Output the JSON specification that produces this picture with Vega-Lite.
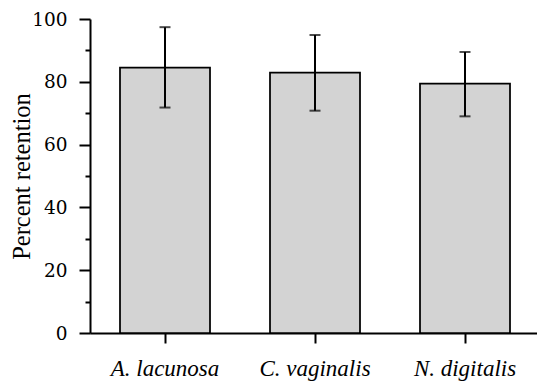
{
  "$schema": "https://vega.github.io/schema/vega-lite/v6.json",
  "autosize": {"type": "none"},
  "padding": {"left": 90, "top": 19, "right": 0, "bottom": 49},
  "width": 450,
  "height": 314,
  "background": "white",
  "config": {
    "view": {"stroke": null},
    "font": "Liberation Serif",
    "axis": {"labelFont": "Liberation Serif", "titleFont": "Liberation Serif", "domainColor": "black", "tickColor": "black", "labelColor": "black", "titleColor": "black", "domainWidth": 2, "tickWidth": 2, "grid": false}
  },
  "data": {
    "values": [
      {"species": "A. lacunosa", "mean": 84.5, "lo": 71.8, "hi": 97.4},
      {"species": "C. vaginalis", "mean": 82.9, "lo": 70.8, "hi": 94.9},
      {"species": "N. digitalis", "mean": 79.4, "lo": 69.0, "hi": 89.5}
    ]
  },
  "encoding": {
    "x": {
      "field": "species", "type": "nominal", "sort": null,
      "scale": {"paddingInner": 0.4, "paddingOuter": 0.2},
      "axis": {"title": null, "labelAngle": 0, "labelFontSize": 23, "labelFontStyle": "italic", "labelPadding": 14, "tickSize": 10}
    }
  },
  "layer": [
    {
      "mark": {"type": "bar", "fill": "#d3d3d3", "stroke": "black", "strokeWidth": 1.75},
      "encoding": {
        "y": {
          "field": "mean", "type": "quantitative",
          "scale": {"domain": [0, 100], "nice": false},
          "axis": {"title": "Percent retention", "titleFontSize": 24.5, "titleFontWeight": "normal", "titlePadding": -3, "values": [0, 20, 40, 60, 80, 100], "labelFont": "DejaVu Serif", "labelFontSize": 18.5, "tickSize": 11, "labelPadding": 12}
        }
      }
    },
    {
      "mark": {"type": "rule", "stroke": "black", "strokeWidth": 2},
      "encoding": {
        "y": {"field": "lo", "type": "quantitative", "axis": {"orient": "left", "values": [10, 30, 50, 70, 90], "labels": false, "domain": false, "title": null, "tickSize": 5}},
        "y2": {"field": "hi"}
      }
    },
    {
      "mark": {"type": "tick", "color": "black", "size": 11, "thickness": 2},
      "encoding": {"y": {"field": "lo", "type": "quantitative", "axis": null}}
    },
    {
      "mark": {"type": "tick", "color": "black", "size": 11, "thickness": 2},
      "encoding": {"y": {"field": "hi", "type": "quantitative", "axis": null}}
    }
  ],
  "resolve": {"axis": {"y": "independent"}}
}
